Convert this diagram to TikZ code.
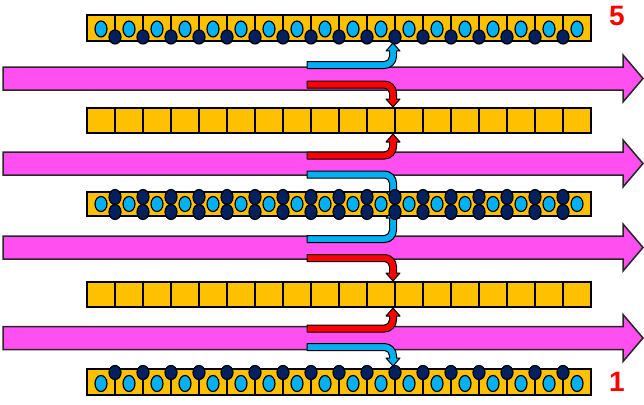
\documentclass[tikz,border=0pt]{standalone}
\usepackage{fontspec}
\setmainfont{Liberation Sans}
\definecolor{pinkA}{HTML}{FF4FF0}
\definecolor{gold}{HTML}{FFC000}
\definecolor{lblue}{HTML}{00B0F0}
\definecolor{navy}{HTML}{002060}
\definecolor{redA}{HTML}{FF0000}
\tikzset{
 pinkarr/.style={fill=pinkA, draw=black!85, line width=1.5pt},
 stripbox/.style={fill=gold, draw=black, line width=1.3pt},
 cellline/.style={draw=black, line width=1.3pt},
 lightell/.style={fill=lblue, draw=black, line width=1.2pt},
 darkell/.style={fill=navy, draw=black, line width=1.2pt},
 bar/.style={draw=black, line width=1pt, line join=round},
 numlabel/.style={font=\bfseries\fontsize{28}{28}\selectfont, text=redA, inner sep=0pt}
}
\newcommand\pinkarrow[1]{%
 \draw[pinkarr] (3,{#1-11.5}) -- (623,{#1-11.5}) -- (623,{#1-23.5}) -- (643,#1) -- (623,{#1+23.5}) -- (623,{#1+11.5}) -- (3,{#1+11.5}) -- cycle;}
\newcommand\bent[4]{%
 \pgfmathsetmacro\bya{#2+(#4)*3.5}%
 \pgfmathsetmacro\byb{#2-(#4)*3.5}%
 \pgfmathsetmacro\byc{#2+(#4)*(3.5+2.24)}%
 \pgfmathsetmacro\byd{#2+(#4)*(3.5+5)}%
 \pgfmathsetmacro\bye{#3-(#4)*8}%
 \pgfmathsetmacro\byf{#2-(#4)*3.5+(#4)*12}%
 \pgfmathsetmacro\byg{#2-(#4)*3.5+(#4)*5.4}%
 \filldraw[bar, fill=#1] (307,\bya) -- (384.5,\bya) .. controls (386.7,\bya) and (389.5,\byc) .. (389.5,\byd) -- (389.5,\bye) -- (386,\bye) -- (393,#3) -- (400,\bye) -- (396.5,\bye) -- (396.5,\byf) .. controls (396.5,\byg) and (391.1,\byb) .. (384.5,\byb) -- (307,\byb) -- cycle;}
\begin{document}
\begin{tikzpicture}[x=1pt,y=-1pt]
\useasboundingbox (0,0) rectangle (644,404);
% pink arrows
\pinkarrow{78.5}
\pinkarrow{163.5}
\pinkarrow{247.5}
\pinkarrow{338}
% strips
\draw[stripbox] (87,15) rectangle (591,41);
\foreach \k in {0,...,16} \draw[cellline] ({115+28*\k},15) -- ({115+28*\k},37);
\draw[stripbox] (87,108) rectangle (591,133);
\foreach \k in {0,...,16} \draw[cellline] ({115+28*\k},108) -- ({115+28*\k},133);
\draw[stripbox] (87,192) rectangle (591,216);
\draw[stripbox] (87,282) rectangle (591,307);
\foreach \k in {0,...,16} \draw[cellline] ({115+28*\k},282) -- ({115+28*\k},307);
\draw[stripbox] (87,369) rectangle (591,395);
\foreach \k in {0,...,16} \draw[cellline] ({115+28*\k},373) -- ({115+28*\k},395);
% bent arrows
\bent{lblue}{65}{43}{-1}
\bent{redA}{84.5}{107}{1}
\bent{redA}{155.5}{134}{-1}
\bent{lblue}{174.5}{200}{1}
\bent{lblue}{239}{210}{-1}
\bent{redA}{258}{281}{1}
\bent{redA}{328.5}{308}{-1}
\bent{lblue}{347}{366}{1}
% ellipses
\foreach \k in {0,...,17} \draw[lightell] ({101+28*\k},29) ellipse [x radius=6pt, y radius=8pt];
\foreach \k in {0,...,16} \draw[darkell] ({115+28*\k},37) ellipse [x radius=6pt, y radius=7pt];
\foreach \k in {0,...,17} \draw[lightell] ({101+28*\k},204) ellipse [x radius=6pt, y radius=7.5pt];
\foreach \k in {0,...,16} {
 \draw[darkell] ({115+28*\k},197) ellipse [x radius=6pt, y radius=7.5pt];
 \draw[darkell] ({115+28*\k},212) ellipse [x radius=6pt, y radius=7.5pt];}
\foreach \k in {0,...,17} \draw[lightell] ({101+28*\k},383.5) ellipse [x radius=6pt, y radius=8pt];
\foreach \k in {0,...,16} \draw[darkell] ({115+28*\k},372.5) ellipse [x radius=6pt, y radius=7pt];
% labels
\node[numlabel] (n5) at (617,16) {5};
\node[numlabel] (n1) at (617,382) {1};
\end{tikzpicture}
\end{document}
